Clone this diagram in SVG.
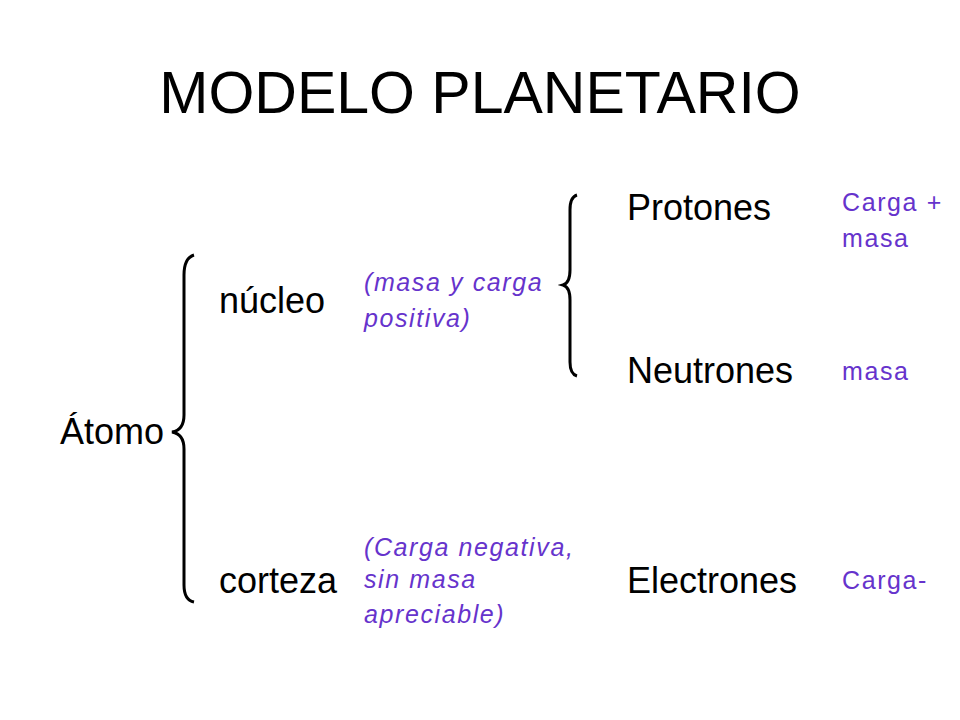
<svg xmlns="http://www.w3.org/2000/svg" width="960" height="720" viewBox="0 0 960 720">
<style>
.t{font-family:"Liberation Sans",Arial,sans-serif;fill:#000;font-size:36px}
.p{font-family:"Liberation Sans",Arial,sans-serif;fill:#6633CC;font-size:25px;letter-spacing:1.6px}
.i{font-style:italic}
.b{fill:none;stroke:#000;stroke-width:3}
</style>
<rect width="960" height="720" fill="#fff"/>
<text x="480" y="113" text-anchor="middle" class="t" style="font-size:59px">MODELO PLANETARIO</text>
<g id="connectors">
<path class="b" d="M194,255 Q184,258 184,275 L184,415 Q184,430 172,432 Q184,434 184,449 L184,585 Q184,600 194,602"/>
<path class="b" d="M577,195 Q570,197 570,210 L570,270 Q570,283 563,285 Q570,287 570,300 L570,362 Q570,374 577,376"/>
</g>
<g id="atomo"><text x="60" y="444" class="t">Átomo</text></g>
<g id="nucleo"><text x="219" y="313" class="t">núcleo</text>
<text class="p i"><tspan x="364" y="291">(masa y carga</tspan><tspan x="364" y="327">positiva)</tspan></text></g>
<g id="corteza"><text x="219" y="593" class="t">corteza</text>
<text class="p i"><tspan x="364" y="556">(Carga negativa,</tspan><tspan x="364" y="588">sin masa</tspan><tspan x="364" y="623">apreciable)</tspan></text></g>
<g id="protones"><text x="627" y="220" class="t">Protones</text>
<text class="p"><tspan x="842" y="211">Carga +</tspan><tspan x="842" y="247">masa</tspan></text></g>
<g id="neutrones"><text x="627" y="383" class="t">Neutrones</text>
<text x="842" y="380" class="p">masa</text></g>
<g id="electrones"><text x="627" y="593" class="t">Electrones</text>
<text x="842" y="589" class="p">Carga-</text></g>
</svg>
